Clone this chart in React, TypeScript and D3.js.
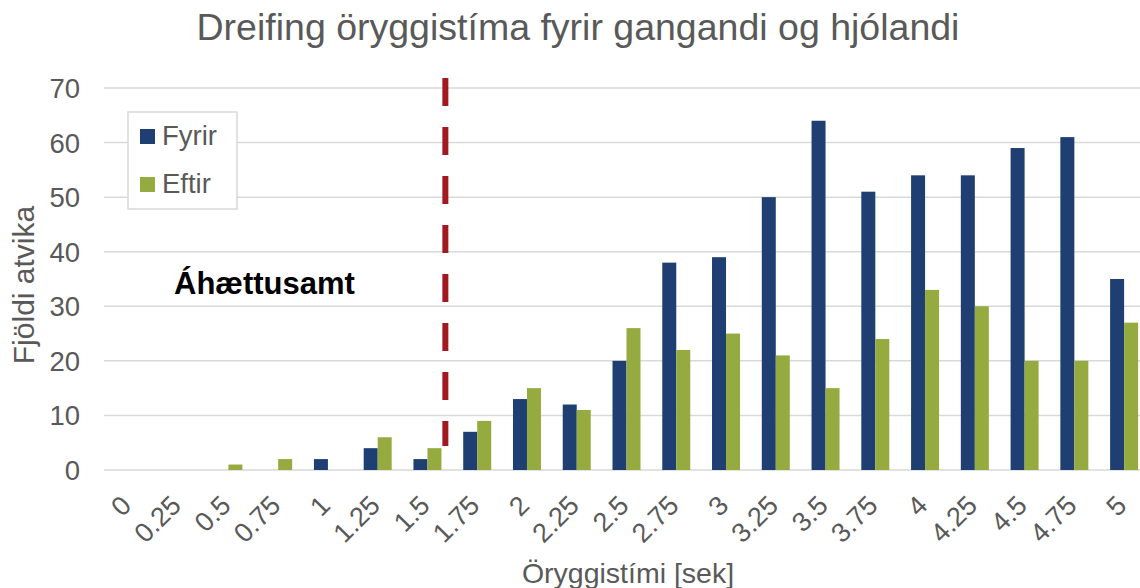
import React from "react";
import * as d3 from "d3";

const categories = ["0","0.25","0.5","0.75","1","1.25","1.5","1.75","2","2.25","2.5","2.75","3","3.25","3.5","3.75","4","4.25","4.5","4.75","5"];
const fyrir = [0,0,0,0,2,4,2,7,13,12,20,38,39,50,64,51,54,54,59,61,35];
const eftir = [0,0,1,2,0,6,4,9,15,11,26,22,25,21,15,24,33,30,20,20,27];
const yTicks = [0,10,20,30,40,50,60,70];
const seriesNames = ["Fyrir", "Eftir"];
const colors = ["#1f3f73", "#95ab40"];

const W = 1140, H = 588;
const left = 104, right = 1149, top = 88, bottom = 470;

export default function App() {
  const x = d3.scaleBand<string>().domain(categories).range([left, right]).paddingInner(0).paddingOuter(0);
  const y = d3.scaleLinear().domain([0, 70]).range([bottom, top]);
  const bw = 14;
  const font = "'Liberation Sans', Arial, sans-serif";
  const grey = "#595959";
  const lineX = (x("1.5") as number) + x.bandwidth() * 0.86;
  return (
    <svg width={W} height={H} style={{ position: "absolute", left: 0, top: 0, background: "#fff" }} fontFamily={font}>
      <rect x={0} y={0} width={W} height={H} fill="#fff" />
      <text x={578} y={40} textAnchor="middle" fontSize={37.5} fill={grey}>Dreifing öryggistíma fyrir gangandi og hjólandi</text>
      {yTicks.map(t => (
        <g key={t}>
          <line x1={left} x2={W} y1={y(t)} y2={y(t)} stroke="#d9d9d9" strokeWidth={1.5} />
          <text x={80} y={y(t) + 10} textAnchor="end" fontSize={27.5} fill={grey}>{t}</text>
        </g>
      ))}
      {categories.map((c, i) => {
        const cx = (x(c) as number) + x.bandwidth() / 2;
        return (
          <g key={c}>
            {fyrir[i] > 0 && <rect x={cx - bw} y={y(fyrir[i])} width={bw} height={bottom - y(fyrir[i])} fill={colors[0]} />}
            {eftir[i] > 0 && <rect x={cx} y={y(eftir[i])} width={bw} height={bottom - y(eftir[i])} fill={colors[1]} />}
            <text transform={`translate(${cx + 4},${507}) rotate(-45)`} textAnchor="end" fontSize={27} fill={grey}>{c}</text>
          </g>
        );
      })}
      <line x1={lineX} x2={lineX} y1={78} y2={446} stroke="#a0191e" strokeWidth={6} strokeDasharray="28 21" />
      <text x={174} y={294} fontSize={31} fontWeight="bold" fill="#000">Áhættusamt</text>
      <rect x={128} y={112} width={109} height={97} fill="#fff" stroke="#d9d9d9" strokeWidth={1.5} />
      {seriesNames.map((s, i) => (
        <g key={s}>
          <rect x={140} y={129 + i * 48} width={15} height={15} fill={colors[i]} />
          <text x={162} y={145 + i * 48} fontSize={27.5} fill={grey}>{s}</text>
        </g>
      ))}
      <text transform={`translate(34,285) rotate(-90)`} textAnchor="middle" fontSize={30} fill={grey}>Fjöldi atvika</text>
      <text x={628} y={583} textAnchor="middle" fontSize={28.5} fill={grey}>Öryggistími [sek]</text>
    </svg>
  );
}
